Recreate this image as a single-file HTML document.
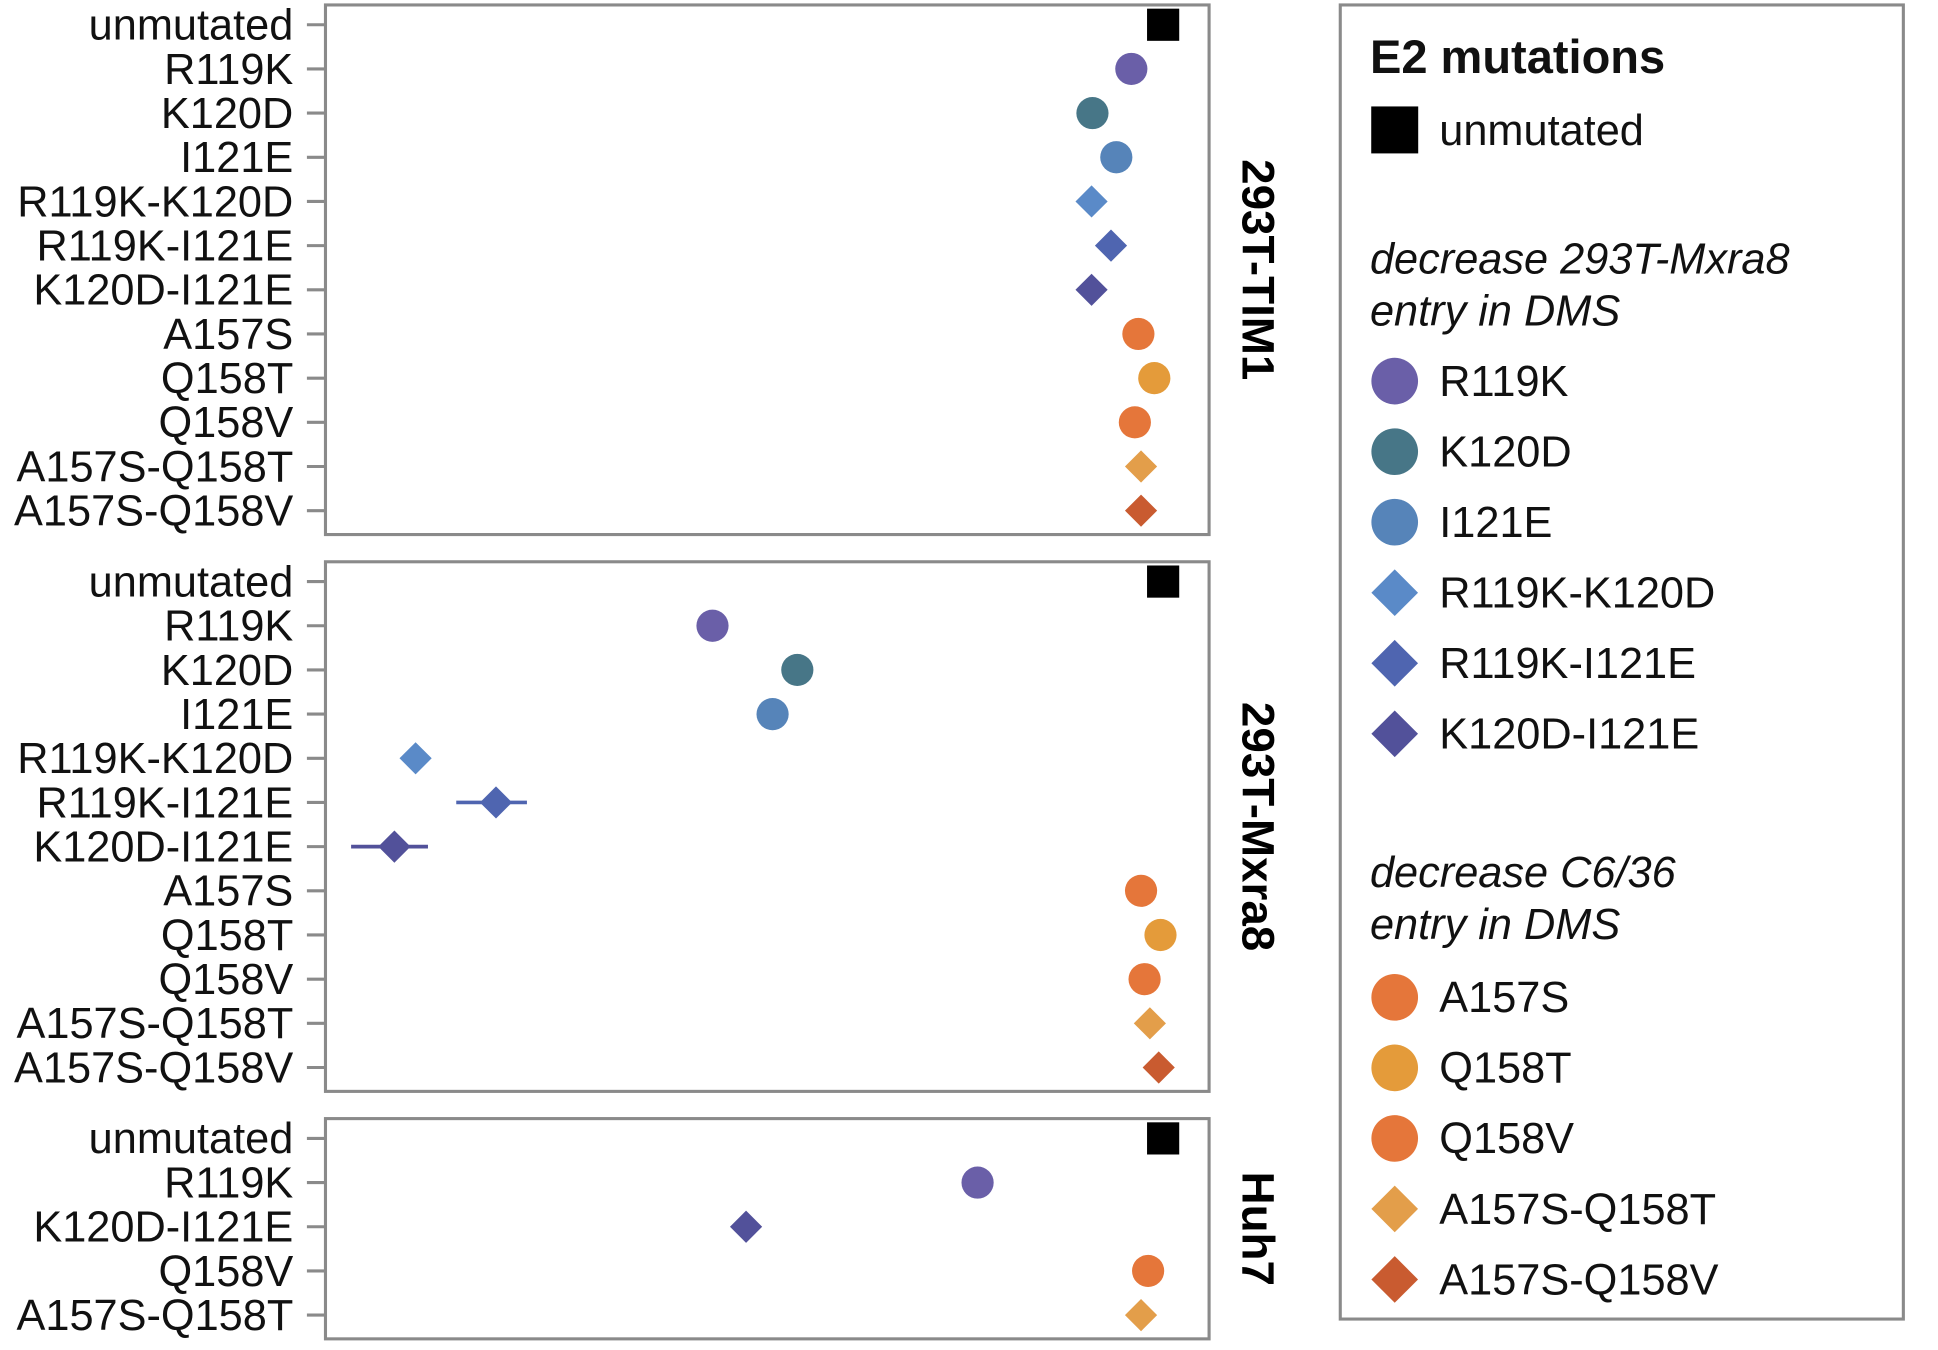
<!DOCTYPE html>
<html><head><meta charset="utf-8"><style>
html,body{margin:0;padding:0;background:#fff;}
svg{display:block;font-family:"Liberation Sans",Arial,sans-serif;}
</style></head><body>
<svg id="chart" width="1938" height="1350" viewBox="0 0 1566 1091" preserveAspectRatio="none" xmlns="http://www.w3.org/2000/svg"></svg>
<script>
// ---- data ----
const panels = ["293T-TIM1", "293T-Mxra8", "Huh7"];
const tim1Cats = ["unmutated","R119K","K120D","I121E","R119K-K120D","R119K-I121E","K120D-I121E","A157S","Q158T","Q158V","A157S-Q158T","A157S-Q158V"];
const tim1Vals = [0.948,0.912,0.868,0.895,0.867,0.889,0.867,0.920,0.938,0.916,0.923,0.923];
const mxraCats = ["unmutated","R119K","K120D","I121E","R119K-K120D","R119K-I121E","K120D-I121E","A157S","Q158T","Q158V","A157S-Q158T","A157S-Q158V"];
const mxraVals = [0.948,0.438,0.534,0.506,0.102,0.193,0.078,0.923,0.945,0.927,0.933,0.943];
const mxraErrLo = [null,null,null,null,null,0.148,0.029,null,null,null,null,null];
const mxraErrHi = [null,null,null,null,null,0.228,0.116,null,null,null,null,null];
const huhCats = ["unmutated","R119K","K120D-I121E","Q158V","A157S-Q158T"];
const huhVals = [0.948,0.738,0.476,0.931,0.923];
const legendGroup1 = ["R119K","K120D","I121E","R119K-K120D","R119K-I121E","K120D-I121E"];
const legendGroup2 = ["A157S","Q158T","Q158V","A157S-Q158T","A157S-Q158V"];

const colors = {"unmutated":"#000","R119K":"#6a5fa8","K120D":"#477687","I121E":"#5684b9","R119K-K120D":"#5a8ac8","R119K-I121E":"#4f65b0","K120D-I121E":"#52519a","A157S":"#e5763a","Q158T":"#e49b3a","Q158V":"#e5763a","A157S-Q158T":"#e39e4a","A157S-Q158V":"#c95b30"};
function shapeOf(c){ if(c==="unmutated") return "square"; return c.indexOf("-")>0 ? "diamond" : "circle"; }

const NS="http://www.w3.org/2000/svg";
const svg=document.getElementById('chart');
function mk(tag,attrs,parent){const e=document.createElementNS(NS,tag);for(const k in attrs)e.setAttribute(k,attrs[k]);(parent||svg).appendChild(e);return e;}

const X0=263, X1=977;
function xScale(v){return X0+v*(X1-X0);}

function marker(g,shape,cx,cy,color,s){
  let el;
  if(shape==="square"){el=mk('rect',{x:cx-13*s,y:cy-13*s,width:26*s,height:26*s,fill:color},g);}
  else if(shape==="circle"){el=mk('circle',{cx:cx,cy:cy,r:13*s,fill:color},g);}
  else {const d=13*s;el=mk('polygon',{points:`${cx},${cy-d} ${cx+d},${cy} ${cx},${cy+d} ${cx-d},${cy}`,fill:color},g);}
  return el;
}

const panelDefs=[
  {name:panels[0],cats:tim1Cats,vals:tim1Vals,lo:null,hi:null,top:4,bottom:432},
  {name:panels[1],cats:mxraCats,vals:mxraVals,lo:mxraErrLo,hi:mxraErrHi,top:454,bottom:882},
  {name:panels[2],cats:huhCats,vals:huhVals,lo:null,hi:null,top:904,bottom:1082}
];
panelDefs.forEach((p,pi)=>{
  const g=mk('g',{});
  
  
  const frame=mk('rect',{x:X0,y:p.top,width:X1-X0,height:p.bottom-p.top,fill:'none',stroke:'#8a8a8a','stroke-width':2.5},g);
  
  
  const step=35.7;
  function yScale(i){return p.top+16+i*step;}
  p.cats.forEach((c,i)=>{
    const y=yScale(i);
    const t=mk('line',{x1:248,x2:X0,y1:y,y2:y,stroke:'#8a8a8a','stroke-width':2.5},g);
    
    
    const lab=mk('text',{x:237,y:y+12,'text-anchor':'end','font-size':35,fill:'#111'},g);
    lab.textContent=c;
    
    
    if(p.lo && p.lo[i]!=null){
      const eb=mk('line',{x1:xScale(p.lo[i]),x2:xScale(p.hi[i]),y1:y,y2:y,stroke:colors[c],'stroke-width':3},g);
      
      
    }
    const m=marker(g,shapeOf(c),xScale(p.vals[i]),y,colors[c],1);
    
    
  });
  const cy=(p.top+p.bottom)/2;
  const ft=mk('text',{x:1004,y:cy,'text-anchor':'middle','font-size':37,'font-weight':'bold',fill:'#000',transform:`rotate(90 1004 ${cy})`},g);
  ft.textContent=p.name;
  
  
});

// legend
const lg=mk('g',{});


const lbox=mk('rect',{x:1083,y:4,width:455,height:1062,fill:'none',stroke:'#8a8a8a','stroke-width':2.5},lg);


function ltext(x,y,txt,extra,name){const t=mk('text',Object.assign({x:x,y:y,'font-size':35,fill:'#111'},extra),lg);t.textContent=txt;return t;}
ltext(1107,59,"E2 mutations",{'font-weight':'bold','font-size':38},'legend-title');
function entry(c,y){
  const m=marker(lg,shapeOf(c),1127,y,colors[c],shapeOf(c)==="square"?1.46:1.45);
  
  
  ltext(1163,y+12,c,{},'legend-entry');
}
entry("unmutated",105);
ltext(1107,221,"decrease 293T-Mxra8",{'font-style':'italic'},'legend-group-heading');
ltext(1107,263,"entry in DMS",{'font-style':'italic'},'legend-group-heading');
legendGroup1.forEach((c,i)=>entry(c,308+i*57));
ltext(1107,717,"decrease C6/36",{'font-style':'italic'},'legend-group-heading');
ltext(1107,759,"entry in DMS",{'font-style':'italic'},'legend-group-heading');
legendGroup2.forEach((c,i)=>entry(c,806+i*57));
</script>
</body></html>
